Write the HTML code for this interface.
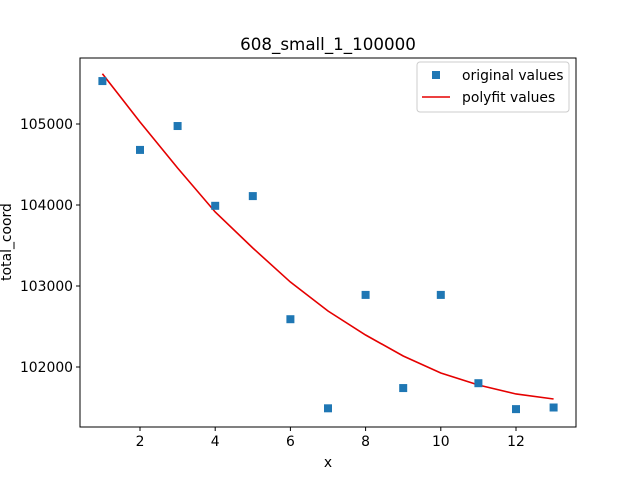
<!DOCTYPE html>
<html><head><meta charset="utf-8"><style>
body{margin:0;background:#fff;}
svg{display:block;font-family:"DejaVu Sans","Liberation Sans",sans-serif;}
</style></head><body>
<svg id="chart" width="640" height="480"></svg>
<script>
const xs=[1,2,3,4,5,6,7,8,9,10,11,12,13];
const origVals=[105530,104680,104975,103990,104110,102590,101490,102890,101740,102890,101800,101480,101500];
const fitVals=[105620,105025,104457,103914,103469,103049,102691,102395,102136,101926,101778,101667,101605];
const xTicks=[2,4,6,8,10,12];
const yTicks=[102000,103000,104000,105000];
const L=80,R=576,T=58,B=427;
const sx=v=>140+(v-2)*37.6;
const sy=v=>124-(v-105000)*0.081;
const svg=document.getElementById('chart');
const NS='http://www.w3.org/2000/svg';
function mk(tag,attrs,parent){const e=document.createElementNS(NS,tag);for(const k in attrs)e.setAttribute(k,attrs[k]);(parent||svg).appendChild(e);return e;}
let t=mk('text',{x:328,y:50,'text-anchor':'middle','font-size':16.7,fill:'#000'});t.textContent='608_small_1_100000';


let pts=xs.map((x,i)=>sx(x)+','+sy(fitVals[i])).join(' ');
let pl=mk('polyline',{points:pts,fill:'none',stroke:'#e50000','stroke-width':1.6});


xs.forEach((x,i)=>{let r=mk('rect',{x:sx(x)-4,y:sy(origVals[i])-4,width:8,height:8,fill:'#1f77b4'});

});
let fr=mk('rect',{x:L,y:T,width:R-L,height:B-T,fill:'none',stroke:'#000','stroke-width':1});


xTicks.forEach(v=>{mk('line',{x1:sx(v),x2:sx(v),y1:B,y2:B+4,stroke:'#000'});
let tx=mk('text',{x:sx(v),y:B+19,'text-anchor':'middle','font-size':13.9});tx.textContent=v;

});
yTicks.forEach(v=>{mk('line',{x1:L-4,x2:L,y1:sy(v),y2:sy(v),stroke:'#000'});
let ty=mk('text',{x:L-7,y:sy(v)+5,'text-anchor':'end','font-size':13.9});ty.textContent=v;

});
let xl=mk('text',{x:328,y:467,'text-anchor':'middle','font-size':13.9});xl.textContent='x';


let yl=mk('text',{x:0,y:0,'text-anchor':'middle','font-size':13.9,transform:'translate(11,242) rotate(-90)'});yl.textContent='total_coord';


let lg=mk('g',{});


mk('rect',{x:417,y:62,width:152,height:50,rx:3,fill:'#fff',stroke:'#ccc'},lg);
mk('rect',{x:432,y:71,width:8,height:8,fill:'#1f77b4'},lg);
let l1=mk('text',{x:462,y:80,'font-size':13.9},lg);l1.textContent='original values';
mk('line',{x1:422,x2:450,y1:97,y2:97,stroke:'#e50000','stroke-width':1.6},lg);
let l2=mk('text',{x:462,y:102,'font-size':13.9},lg);l2.textContent='polyfit values';
</script>
</body></html>
